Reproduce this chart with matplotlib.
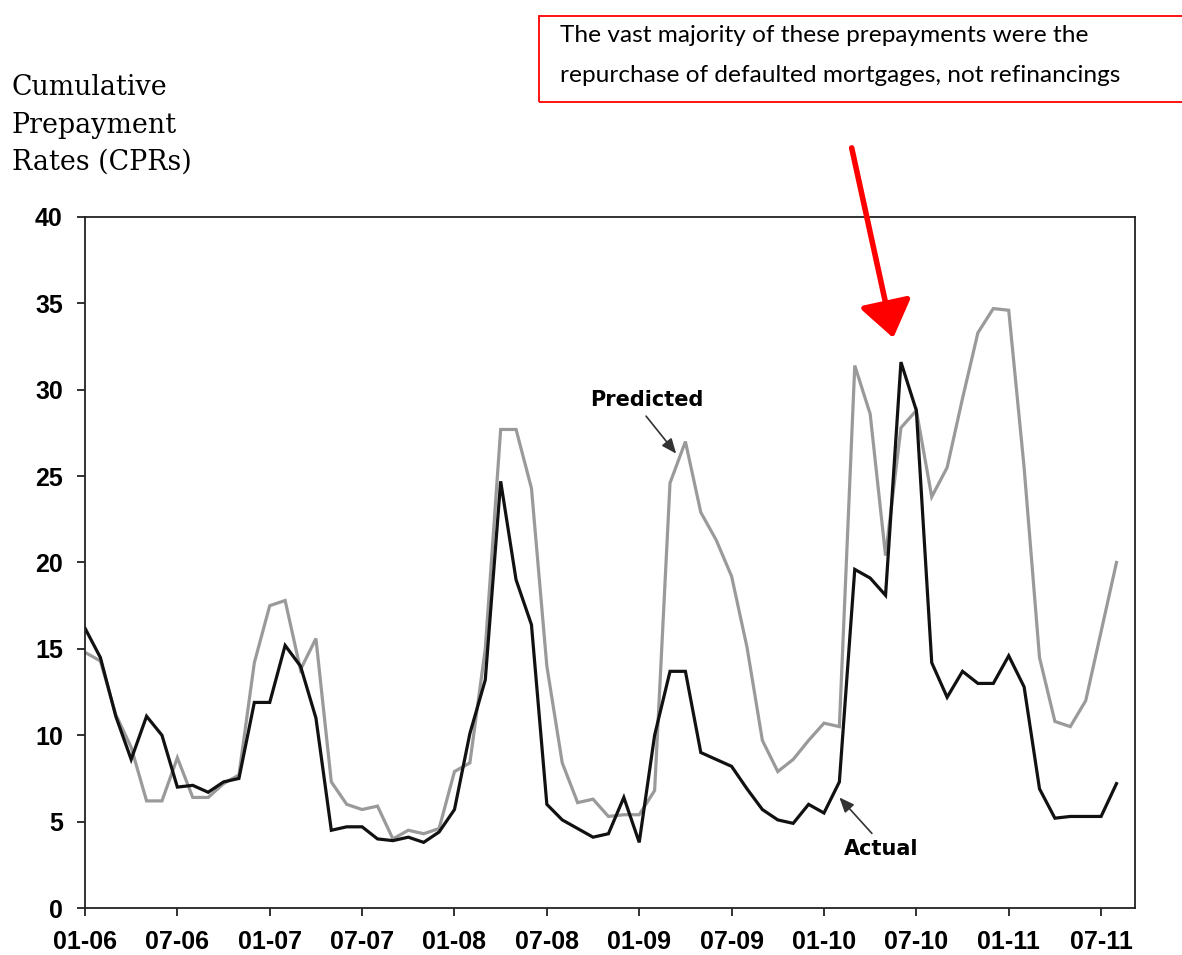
import matplotlib
matplotlib.use("Agg")
import matplotlib.pyplot as plt
from matplotlib.patches import Rectangle

# Monthly CPR data, Jan 2006 .. Aug 2011
actual = [16.2, 14.5, 11.1, 8.6, 11.1, 10.0, 7.0, 7.1, 6.7, 7.3,
          7.5, 11.9, 11.9, 15.2, 14.0, 11.0, 4.5, 4.7, 4.7, 4.0,
          3.9, 4.1, 3.8, 4.4, 5.7, 10.1, 13.2, 24.7, 19.0, 16.4,
          6.0, 5.1, 4.6, 4.1, 4.3, 6.4, 3.8, 10.0, 13.7, 13.7,
          9.0, 8.6, 8.2, 6.9, 5.7, 5.1, 4.9, 6.0, 5.5, 7.3,
          19.6, 19.1, 18.1, 31.6, 28.8, 14.2, 12.2, 13.7, 13.0, 13.0,
          14.6, 12.8, 6.9, 5.2, 5.3, 5.3, 5.3, 7.2]
predicted = [14.8, 14.3, 11.2, 9.3, 6.2, 6.2, 8.7, 6.4, 6.4, 7.2,
             7.7, 14.2, 17.5, 17.8, 13.8, 15.6, 7.3, 6.0, 5.7, 5.9,
             4.0, 4.5, 4.3, 4.6, 7.9, 8.4, 15.0, 27.7, 27.7, 24.3,
             14.0, 8.4, 6.1, 6.3, 5.3, 5.4, 5.4, 6.8, 24.6, 27.0,
             22.9, 21.3, 19.2, 15.1, 9.7, 7.9, 8.6, 9.7, 10.7, 10.5,
             31.4, 28.6, 20.4, 27.8, 28.8, 23.8, 25.5, 29.5, 33.3, 34.7,
             34.6, 25.5, 14.5, 10.8, 10.5, 12.0, 16.0, 20.0]
months = list(range(len(actual)))
tick_months = list(range(0, 67, 6))
tick_labels = ["01-06", "07-06", "01-07", "07-07", "01-08", "07-08",
               "01-09", "07-09", "01-10", "07-10", "01-11", "07-11"]

fig = plt.figure(figsize=(11.82, 9.55), dpi=100)
ax = fig.add_axes([0.0719, 0.0492, 0.8883, 0.7236])

ax.plot(months, predicted, color="#9a9a9a", lw=2.3, solid_joinstyle="miter")
ax.plot(months, actual, color="#111111", lw=2.3, solid_joinstyle="miter")

ax.set_xlim(0, 68.2)
ax.set_ylim(0, 40)
ax.set_yticks(range(0, 41, 5))
ax.set_xticks(tick_months)
ax.set_xticklabels(tick_labels)
for s in ax.spines.values():
    s.set_linewidth(1.3)
    s.set_color("#222222")
ax.tick_params(axis="both", direction="out", length=6, width=1.3, color="#222222")
ax.tick_params(axis="y", pad=10)
ax.tick_params(axis="x", pad=10)
for lab in ax.get_xticklabels() + ax.get_yticklabels():
    lab.set_fontfamily("Liberation Sans")
    lab.set_fontweight("bold")
    lab.set_fontsize(18)

# series labels
ax.annotate("Predicted", xy=(38.4, 26.3), xytext=(36.5, 29.4),
            ha="center", va="center", fontsize=15, fontweight="bold",
            family="DejaVu Sans",
            arrowprops=dict(arrowstyle="-|>,head_length=0.6,head_width=0.25",
                            color="#333333", lw=1.2, relpos=(0.45, 0.0),
                            shrinkA=3, shrinkB=0))
ax.annotate("Actual", xy=(49.0, 6.4), xytext=(51.7, 3.4),
            ha="center", va="center", fontsize=15, fontweight="bold",
            family="DejaVu Sans",
            arrowprops=dict(arrowstyle="-|>,head_length=0.6,head_width=0.25",
                            color="#333333", lw=1.2, relpos=(0.45, 1.0),
                            shrinkA=3, shrinkB=0))

# big red arrow
ax.annotate("", xy=(52.5, 33.0), xytext=(49.8, 44.0), annotation_clip=False,
            arrowprops=dict(arrowstyle="-|>,head_length=2.2,head_width=1.6",
                            mutation_scale=10, color="#ff0000", lw=4,
                            shrinkA=0, shrinkB=0))

# y axis title
fig.text(12 / 1182, 1 - 74 / 955, "Cumulative\nPrepayment\nRates (CPRs)",
         ha="left", va="top", fontsize=19.4, family="DejaVu Serif",
         linespacing=1.5)

# red callout box
fig.patches.append(Rectangle((539 / 1182, 1 - 102 / 955), 700 / 1182, 86 / 955,
                             transform=fig.transFigure, fill=False,
                             edgecolor="#ff0000", lw=1.3))
fig.text(560 / 1182, 1 - 35 / 955, "The vast majority of these prepayments were the",
         ha="left", va="center", fontsize=17.6, family="Lato")
fig.text(560 / 1182, 1 - 75 / 955, "repurchase of defaulted mortgages, not refinancings",
         ha="left", va="center", fontsize=17.6, family="Lato")

fig.savefig("out.png", dpi=100)
